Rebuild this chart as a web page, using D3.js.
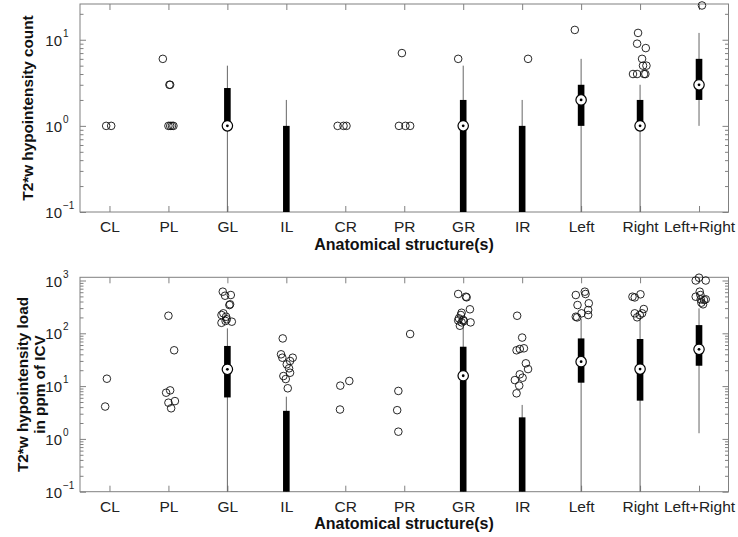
<!DOCTYPE html>
<html><head><meta charset="utf-8">
<script src="https://cdn.jsdelivr.net/npm/d3@7"></script>
<style>body{margin:0;background:#fff}</style>
</head><body><svg id="chart" width="738" height="537"></svg>
<script>
// ---------- DATA ----------
const categories = ["CL","PL","GL","IL","CR","PR","GR","IR","Left","Right","Left+Right"];

// Panel 1: T2*w hypointensity count (0 = below log axis)
const countQ1          = [0,0,1,   0,0,0,0,0,1,1,2];
const countMedian      = [0,0,1,   0,0,0,1,0,2,1,3];
const countQ3          = [0,0,2.75,1,0,0,2,1,3,2,6];
const countWhiskerLow  = [0,0,0,   0,0,0,0,0,0,0,1];
const countWhiskerHigh = [0,0,5,   2,0,0,5,2,6,3,12];
const countOutlierCat    = ["CL","CL","PL","PL","PL","PL","PL","PL","PL","CR","CR","CR","PR","PR","PR","PR","GR","IR","Left","Right","Right","Right","Right","Right","Right","Right","Right","Right","Right","Left+Right"];
const countOutlierValue  = [1,1,6,3,3,1,1,1,1,1,1,1,7,1,1,1,6,6,13,12,9,8,6,5,5,4,4,4,4,25];
const countOutlierJitter = [-0.056,0.029,-0.095,0.017,0.029,0,0.03,0.06,0.085,-0.13,-0.03,0.02,-0.04,-0.09,0.02,0.1,-0.085,0.1,-0.107,-0.034,-0.05,0.097,0.034,0.05,0.108,-0.12,-0.05,0.068,0.09,0.05];

// Panel 2: T2*w hypointensity load in ppm of ICV
const loadQ1          = [0,0,6.1, 0,  0,0,0,   0,   11.6,5.3,24.3];
const loadMedian      = [0,0,20.8,0,  0,0,15.7,0,   29,  21, 49.8];
const loadQ3          = [0,0,57.6,3.4,0,0,55.7,2.56,80,  78, 143];
const loadWhiskerLow  = [0,0,0,   0,  0,0,0,   0,   0,   0,  1.28];
const loadWhiskerHigh = [0,0,124, 6.3,0,0,133, 4.4, 190, 200,297];
const loadOutlierCat = [
  "CL","CL",
  "PL","PL","PL","PL","PL","PL","PL",
  "GL","GL","GL","GL","GL","GL","GL","GL","GL","GL","GL","GL",
  "IL","IL","IL","IL","IL","IL","IL","IL","IL","IL","IL",
  "CR","CR","CR",
  "PR","PR","PR","PR",
  "GR","GR","GR","GR","GR","GR","GR","GR","GR","GR","GR","GR","GR",
  "IR","IR","IR","IR","IR","IR","IR","IR","IR","IR","IR","IR",
  "Left","Left","Left","Left","Left","Left","Left","Left","Left","Left",
  "Right","Right","Right","Right","Right","Right","Right","Right",
  "Left+Right","Left+Right","Left+Right","Left+Right","Left+Right","Left+Right","Left+Right","Left+Right","Left+Right","Left+Right","Left+Right"];
const loadOutlierValue = [
  13.8,4.1,
  215,47.7,7.5,8.3,4.85,5.2,3.8,
  614,515,531,343,354,239,222,206,184,171,158,166,
  80,40,34.5,34.5,29.9,25.8,21.7,17.9,15.5,13.6,9.1,
  10.2,12.5,3.6,
  97,8.1,3.5,1.37,
  555,493,480,285,245,222,192,179,175,161,161,139,170,
  215,83,47.7,50.5,52,27,21,16.7,14.4,13,10.2,7.3,
  531,614,555,343,370,276,239,206,200,222,
  493,478,548,239,288,239,201,222,
  1000,1130,1000,493,614,531,440,427,380,354,440];
const loadOutlierJitter = [
  -0.044,-0.073,
  0,0.097,-0.039,0.029,0,0.11,0.046,
  -0.078,-0.039,0.058,0.034,0.046,-0.068,-0.1,-0.022,-0.01,-0.03,-0.1,0.075,
  -0.061,-0.09,-0.068,0.108,0.063,0.007,0.046,0.063,-0.05,-0.01,0.024,
  -0.085,0.068,-0.09,
  0.1,-0.1,-0.12,-0.1,
  -0.085,0.046,0.058,0.114,-0.027,-0.04,-0.073,0,-0.085,-0.027,0.125,-0.056,0.012,
  -0.085,0,-0.095,-0.04,0.03,0.063,0.1,-0.04,0.007,-0.124,-0.05,-0.095,
  -0.09,0.063,0.075,-0.061,0.13,0.12,0.007,-0.09,-0.068,0.12,
  -0.129,-0.09,0.007,-0.09,0.063,0.034,-0.05,-0.005,
  -0.056,0,0.114,-0.056,0.012,0.024,0.029,0.085,0.04,0.068,0.114];

// ---------- DRAW ----------
const svg = d3.select("#chart");
const FONT = "'Liberation Sans', Arial, Helvetica, sans-serif";
const AXIS_COLOR = "#808080";

const x = d3.scaleLinear().domain([0.5, 11.5]).range([80, 728.5]);

function drawPanel(cfg) {
  const y = d3.scaleLog().domain(cfg.domain).range(cfg.range);
  const yBottom = cfg.range[0];
  const yp = v => (v <= cfg.domain[0] ? yBottom : y(v));
  const g = svg.append("g");

  // frame
  g.append("rect").attr("x", x.range()[0]).attr("y", cfg.range[1])
    .attr("width", x.range()[1] - x.range()[0]).attr("height", yBottom - cfg.range[1])
    .attr("fill", "none").attr("stroke", AXIS_COLOR).attr("stroke-width", 1);

  // log ticks
  const lo = Math.round(Math.log10(cfg.domain[0]));
  const hi = Math.floor(Math.log10(cfg.domain[1]));
  const majors = d3.range(lo, hi + 1).map(k => Math.pow(10, k));
  const minors = [];
  majors.forEach(m => { for (let j = 2; j <= 9; j++) { const v = m * j; if (v < cfg.domain[1]) minors.push(v); } });

  const styleAxis = sel => { sel.select(".domain").remove(); sel.selectAll("line").attr("stroke", AXIS_COLOR); sel.selectAll("text").remove(); };
  g.append("g").attr("transform", `translate(${x.range()[0]},0)`).call(d3.axisLeft(y).tickValues(majors).tickSize(-6)).call(styleAxis);
  g.append("g").attr("transform", `translate(${x.range()[0]},0)`).call(d3.axisLeft(y).tickValues(minors).tickSize(-3.5)).call(styleAxis);
  g.append("g").attr("transform", `translate(${x.range()[1]},0)`).call(d3.axisRight(y).tickValues(majors).tickSize(-6)).call(styleAxis);
  g.append("g").attr("transform", `translate(${x.range()[1]},0)`).call(d3.axisRight(y).tickValues(minors).tickSize(-3.5)).call(styleAxis);

  // y tick labels 10^k
  majors.forEach(m => {
    const k = Math.round(Math.log10(m));
    const t = g.append("g").attr("transform", `translate(0,${y(m)})`);
    t.append("text").attr("x", 62).attr("y", 6).attr("text-anchor", "end")
      .attr("font-family", FONT).attr("font-size", 15).attr("fill", "#222").text("10");
    t.append("text").attr("x", 63).attr("y", -3).attr("text-anchor", "start")
      .attr("font-family", FONT).attr("font-size", 10).attr("fill", "#222").text(k < 0 ? "\u2212" + (-k) : String(k));
  });

  // x axes (ticks inward, top and bottom)
  const xb = g.append("g").attr("transform", `translate(0,${yBottom})`)
    .call(d3.axisBottom(x).tickValues(d3.range(1, 12)).tickSize(-6).tickPadding(9).tickFormat(d => categories[d - 1]));
  xb.select(".domain").remove();
  xb.selectAll("line").attr("stroke", AXIS_COLOR);
  xb.selectAll("text").attr("font-family", FONT).attr("font-size", 15.5).attr("fill", "#222");
  const xt = g.append("g").attr("transform", `translate(0,${cfg.range[1]})`)
    .call(d3.axisTop(x).tickValues(d3.range(1, 12)).tickSize(-6).tickFormat(""));
  xt.select(".domain").remove();
  xt.selectAll("line").attr("stroke", AXIS_COLOR);

  // whiskers and boxes
  categories.forEach((c, i) => {
    const cx = x(i + 1);
    if (cfg.whiskerHigh[i] > cfg.domain[0]) {
      g.append("line").attr("x1", cx).attr("x2", cx)
        .attr("y1", yp(cfg.whiskerLow[i])).attr("y2", yp(cfg.whiskerHigh[i]))
        .attr("stroke", "#666").attr("stroke-width", 1);
    }
    if (cfg.q3[i] > cfg.domain[0]) {
      g.append("rect").attr("x", cx - 3.3).attr("width", 6.6)
        .attr("y", yp(cfg.q3[i])).attr("height", yp(cfg.q1[i]) - yp(cfg.q3[i]))
        .attr("fill", "#000");
    }
  });

  // outliers
  cfg.outCat.forEach((c, j) => {
    const i = categories.indexOf(c);
    g.append("circle").attr("cx", x(i + 1 + cfg.outJitter[j])).attr("cy", y(cfg.outValue[j]))
      .attr("r", 3.8).attr("fill", "none").attr("stroke", "#111").attr("stroke-width", 0.9);
  });

  // medians
  categories.forEach((c, i) => {
    if (cfg.median[i] > cfg.domain[0]) {
      const cx = x(i + 1), cy = y(cfg.median[i]);
      g.append("circle").attr("cx", cx).attr("cy", cy).attr("r", 5.2)
        .attr("fill", "#fff").attr("stroke", "#000").attr("stroke-width", 1.2);
      g.append("circle").attr("cx", cx).attr("cy", cy).attr("r", 1.4).attr("fill", "#000");
    }
  });

  // x title
  g.append("text").attr("x", 404).attr("y", cfg.xTitleY).attr("text-anchor", "middle")
    .attr("font-family", FONT).attr("font-size", 16).attr("font-weight", "bold").attr("fill", "#111")
    .text("Anatomical structure(s)");

  // y title
  const yc = (cfg.range[0] + cfg.range[1]) / 2;
  cfg.yTitle.forEach((line, li) => {
    g.append("text")
      .attr("transform", `translate(${cfg.yTitleX[li]},${yc}) rotate(-90)`)
      .attr("text-anchor", "middle").attr("font-family", FONT).attr("font-size", 15.3)
      .attr("font-weight", "bold").attr("fill", "#111").text(line);
  });
}

drawPanel({
  domain: [0.1, 26], range: [212, 4],
  q1: countQ1, median: countMedian, q3: countQ3,
  whiskerLow: countWhiskerLow, whiskerHigh: countWhiskerHigh,
  outCat: countOutlierCat, outValue: countOutlierValue, outJitter: countOutlierJitter,
  xTitleY: 250, yTitle: ["T2*w hypointensity count"], yTitleX: [33]
});
drawPanel({
  domain: [0.1, 1150], range: [491.7, 277.3],
  q1: loadQ1, median: loadMedian, q3: loadQ3,
  whiskerLow: loadWhiskerLow, whiskerHigh: loadWhiskerHigh,
  outCat: loadOutlierCat, outValue: loadOutlierValue, outJitter: loadOutlierJitter,
  xTitleY: 529, yTitle: ["T2*w hypointensity load", "in ppm of ICV"], yTitleX: [28, 45]
});
</script></body></html>
